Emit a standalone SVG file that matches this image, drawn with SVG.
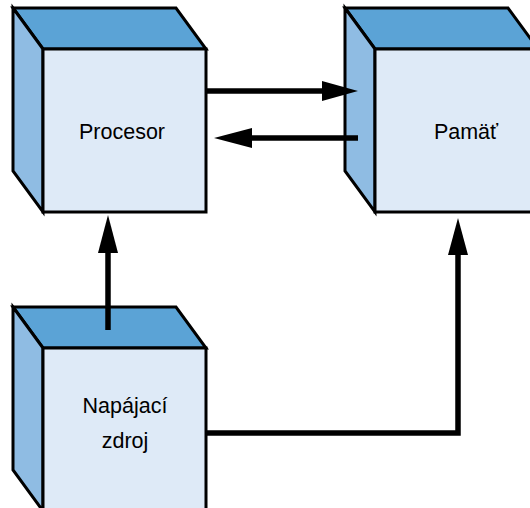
<svg xmlns="http://www.w3.org/2000/svg" width="530" height="508" viewBox="0 0 530 508">
  <defs>
    <style>
      .top { fill: #5ba3d6; stroke: #000; stroke-width: 3; stroke-linejoin: miter; }
      .side { fill: #8fbce3; stroke: #000; stroke-width: 3; stroke-linejoin: miter; }
      .front { fill: #deeaf7; stroke: #000; stroke-width: 3; }
      .label { font-family: "Liberation Sans", Arial, sans-serif; font-size: 21.5px; fill: #000; text-anchor: middle; }
      .wire { fill: none; stroke: #000; stroke-width: 5.5; stroke-linejoin: miter; }
      .head { fill: #000; }
    </style>
  </defs>
  <rect width="530" height="508" fill="#fff"/>

  <!-- Processor block -->
  <g id="procesor">
    <polygon class="top" points="13,8 176,8 206,49 43,49"/>
    <polygon class="side" points="13,8 43,49 43,212 13,171"/>
    <rect class="front" x="43" y="49" width="163" height="163"/>
    <text class="label" x="122" y="139">Procesor</text>
  </g>

  <!-- Memory block -->
  <g id="pamat">
    <polygon class="top" points="345,8 508,8 538,49 375,49"/>
    <polygon class="side" points="345,8 375,49 375,212 345,171"/>
    <rect class="front" x="375" y="49" width="163" height="163"/>
    <text class="label" x="466" y="139">Pamäť</text>
  </g>

  <!-- Power supply block -->
  <g id="napajaci-zdroj">
    <polygon class="top" points="13,307 176,307 206,348 43,348"/>
    <polygon class="side" points="13,307 43,348 43,511 13,470"/>
    <rect class="front" x="43" y="348" width="163" height="163"/>
    <text class="label" x="125" y="413">Napájací</text>
    <text class="label" x="125" y="448">zdroj</text>
  </g>

  <!-- Connectors -->
  <g id="connectors">
    <!-- processor to memory -->
    <line class="wire" x1="206" y1="91" x2="324" y2="91"/>
    <polygon class="head" points="358,91 322,81 322,101"/>
    <!-- memory to processor -->
    <line class="wire" x1="358" y1="138" x2="250" y2="138"/>
    <polygon class="head" points="214,138 252,128 252,148"/>
    <!-- power supply to processor -->
    <line class="wire" x1="108" y1="330" x2="108" y2="251"/>
    <polygon class="head" points="108,215 98,253 118,253"/>
    <!-- power supply to memory -->
    <polyline class="wire" points="206,433 458,433 458,253"/>
    <polygon class="head" points="458,218 448,255 468,255"/>
  </g>
</svg>
